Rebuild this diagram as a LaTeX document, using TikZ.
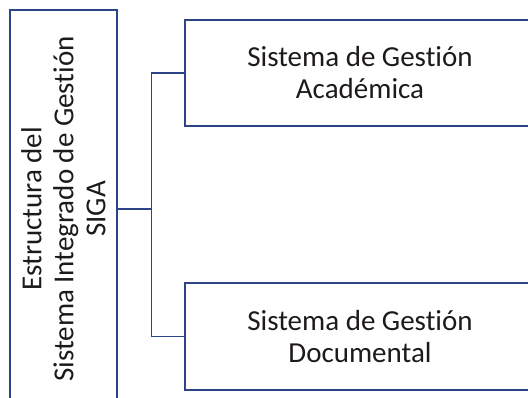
\documentclass[tikz,border=0pt]{standalone}
\usepackage{fontspec}
\setmainfont{Carlito}[Ligatures=NoCommon]
\usetikzlibrary{positioning,calc}
\definecolor{sigablue}{RGB}{45,68,135}
\definecolor{scanink}{RGB}{30,26,28}
\tikzset{box/.style={draw=sigablue,line width=1.5pt,text=scanink,align=center,inner sep=0pt,
  font=\fontsize{29}{32}\selectfont},
  link/.style={draw=sigablue,line width=1.4pt}}
\begin{document}
\begin{tikzpicture}[x=1pt,y=-1pt]
\useasboundingbox (0,0) rectangle (528,398);
\clip (0,0) rectangle (528,398);
\node[box,rotate=90,minimum width=398pt,minimum height=107pt] (siga) at (63.5,209)
  {Estructura del\\Sistema Integrado de Gestión\\SIGA};
\node[box,minimum width=350pt,minimum height=106pt] (acad) at (360,73)
  {Sistema de Gestión\\Académica};
\node[box,minimum width=350pt,minimum height=107pt] (docu) at (360,336.5)
  {Sistema de Gestión\\Documental};

\draw[link] (siga.south)--++(34,0) coordinate (fork);
\draw[link] (fork)|-(acad.west) (fork)|-(docu.west);
\end{tikzpicture}
\end{document}
